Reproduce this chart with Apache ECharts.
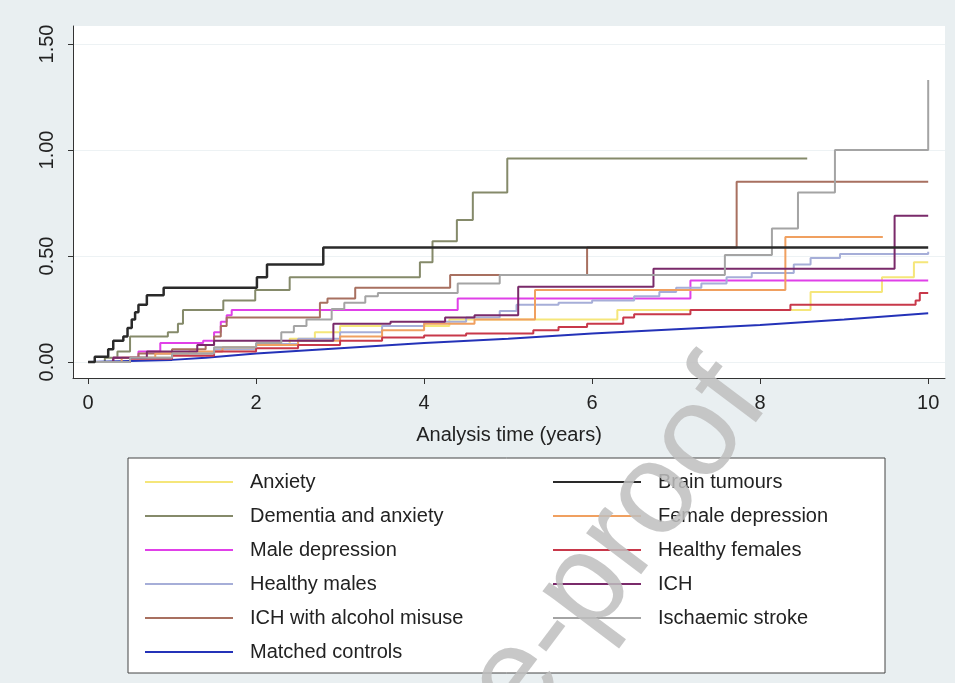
<!DOCTYPE html>
<html>
<head>
<meta charset="utf-8">
<script src="https://cdn.jsdelivr.net/npm/echarts@6/dist/echarts.min.js"></script>
<style>
  html, body { margin: 0; padding: 0; background: #e9eff1; }
  #chart { width: 955px; height: 683px; }
</style>
</head>
<body>
<div id="chart"></div>
<script>
// step data: [time (years), cumulative incidence]
const anxiety = [[0,0],[0.5,0.02],[1.0,0.04],[1.5,0.06],[2.0,0.08],[2.4,0.11],[2.7,0.14],[3.0,0.17],[4.3,0.20],[6.3,0.245],[8.6,0.33],[9.45,0.40],[9.83,0.47],[10,0.47]];
const dementiaAnxiety = [[0,0],[0.2,0.02],[0.35,0.05],[0.5,0.12],[0.95,0.14],[1.07,0.18],[1.13,0.245],[1.61,0.29],[1.99,0.34],[2.4,0.40],[3.95,0.47],[4.1,0.57],[4.39,0.67],[4.58,0.80],[4.99,0.96],[8.56,0.96]];
const maleDepression = [[0,0],[0.3,0.02],[0.6,0.05],[0.86,0.09],[1.37,0.10],[1.5,0.14],[1.58,0.19],[1.65,0.22],[1.71,0.245],[4.4,0.30],[7.17,0.385],[10,0.385]];
const healthyMales = [[0,0],[0.5,0.02],[1,0.04],[1.5,0.06],[2,0.085],[2.5,0.11],[3,0.14],[3.5,0.17],[4,0.19],[4.5,0.21],[4.9,0.24],[5.1,0.27],[5.6,0.28],[6.0,0.29],[6.5,0.31],[6.8,0.33],[7.0,0.35],[7.3,0.37],[7.6,0.40],[7.9,0.42],[8.4,0.46],[8.6,0.49],[8.95,0.51],[10,0.52]];
const ichAlcohol = [[0,0],[0.3,0.02],[0.6,0.04],[1.0,0.06],[1.4,0.08],[1.5,0.12],[1.58,0.17],[1.65,0.21],[2.76,0.28],[2.85,0.30],[3.18,0.35],[4.31,0.41],[5.94,0.54],[7.72,0.85],[10,0.85]];
const matchedControls = [[0,0],[0.5,0.005],[1,0.01],[1.4,0.02],[2,0.04],[3,0.065],[4,0.09],[5,0.11],[6,0.135],[7,0.155],[8,0.175],[9,0.20],[10,0.23]];
const brainTumours = [[0,0],[0.08,0.025],[0.24,0.06],[0.30,0.10],[0.42,0.12],[0.47,0.16],[0.52,0.20],[0.56,0.235],[0.60,0.27],[0.70,0.315],[0.90,0.35],[2.01,0.40],[2.13,0.46],[2.80,0.54],[10,0.54]];
const femaleDepression = [[0,0],[0.4,0.02],[0.8,0.04],[1.2,0.05],[1.6,0.07],[2.0,0.08],[2.5,0.10],[3.0,0.12],[3.5,0.15],[4.0,0.18],[4.6,0.20],[5.32,0.34],[8.3,0.59],[9.46,0.59]];
const healthyFemales = [[0,0],[0.5,0.015],[1,0.03],[1.5,0.05],[2,0.065],[2.5,0.08],[3,0.10],[3.5,0.115],[4,0.125],[4.5,0.135],[5.3,0.15],[5.6,0.165],[5.94,0.18],[6.37,0.21],[6.5,0.225],[7.17,0.245],[8.36,0.27],[9.85,0.29],[9.9,0.325],[10,0.325]];
const ich = [[0,0],[0.3,0.02],[0.7,0.05],[1.3,0.08],[1.5,0.10],[2.92,0.18],[3.6,0.19],[4.25,0.21],[4.6,0.22],[5.12,0.355],[6.73,0.44],[9.6,0.69],[10,0.69]];
const ischaemicStroke = [[0,0],[0.5,0.02],[1.0,0.04],[1.5,0.07],[2.0,0.09],[2.3,0.14],[2.45,0.17],[2.6,0.20],[2.9,0.25],[3.05,0.28],[3.3,0.31],[3.45,0.325],[4.4,0.37],[4.9,0.41],[7.58,0.505],[8.14,0.63],[8.45,0.80],[8.89,1.0],[10,1.33]];

const leftNames = ['Anxiety', 'Dementia and anxiety', 'Male depression', 'Healthy males', 'ICH with alcohol misuse', 'Matched controls'];
const rightNames = ['Brain tumours', 'Female depression', 'Healthy females', 'ICH', 'Ischaemic stroke'];
const xTicks = [0, 2, 4, 6, 8, 10];
const yTicks = [0, 0.5, 1, 1.5];

const groups = [
  { name: 'Anxiety', data: anxiety, color: '#f5e67a' },
  { name: 'Dementia and anxiety', data: dementiaAnxiety, color: '#858a6a' },
  { name: 'Male depression', data: maleDepression, color: '#e040e8' },
  { name: 'Healthy males', data: healthyMales, color: '#a6aed8' },
  { name: 'ICH with alcohol misuse', data: ichAlcohol, color: '#a87060' },
  { name: 'Matched controls', data: matchedControls, color: '#2432b8', smooth: true },
  { name: 'Brain tumours', data: brainTumours, color: '#2a2a2a', width: 2.5 },
  { name: 'Female depression', data: femaleDepression, color: '#f0a060' },
  { name: 'Healthy females', data: healthyFemales, color: '#c8384a' },
  { name: 'ICH', data: ich, color: '#7a2a6a' },
  { name: 'Ischaemic stroke', data: ischaemicStroke, color: '#a4a4a4' }
];

const chart = echarts.init(document.getElementById('chart'), null, { renderer: 'canvas' });

const fontFamily = '"Liberation Sans", Arial, sans-serif';

const legendBase = {
  orient: 'vertical',
  top: 472,
  padding: 0,
  icon: 'rect',
  itemWidth: 88,
  itemHeight: 2,
  itemGap: 14,
  selectedMode: false,
  textStyle: {
    fontSize: 20,
    lineHeight: 20,
    color: '#222',
    fontFamily: fontFamily,
    padding: [0, 0, 0, 12]
  }
};

const option = {
  backgroundColor: '#e9eff1',
  animation: false,
  grid: {
    left: 73,
    right: 10,
    top: 26,
    bottom: 305,
    show: true,
    backgroundColor: '#ffffff',
    borderWidth: 0
  },
  xAxis: {
    type: 'value',
    min: -0.179,
    max: 10.2,
    name: 'Analysis time (years)',
    nameLocation: 'middle',
    nameGap: 47,
    nameTextStyle: { fontSize: 20, color: '#222', fontFamily: fontFamily },
    axisLine: { show: true, onZero: false, lineStyle: { color: '#333', width: 1 } },
    axisTick: { show: true, length: 6, customValues: xTicks, lineStyle: { color: '#333' } },
    axisLabel: { customValues: xTicks, fontSize: 20, color: '#222', margin: 15, fontFamily: fontFamily },
    splitLine: { show: false }
  },
  yAxis: {
    type: 'value',
    min: -0.0755,
    max: 1.585,
    axisLine: { show: true, onZero: false, lineStyle: { color: '#333', width: 1 } },
    axisTick: { show: true, length: 5, customValues: yTicks, lineStyle: { color: '#333' } },
    axisLabel: {
      customValues: yTicks,
      rotate: 90,
      fontSize: 20,
      color: '#222',
      margin: 16,
      fontFamily: fontFamily,
      formatter: v => v.toFixed(2)
    },
    splitLine: { show: true, lineStyle: { color: '#edf2f4', width: 1 } }
  },
  legend: [
    Object.assign({}, legendBase, { left: 145, data: leftNames }),
    Object.assign({}, legendBase, { left: 553, data: rightNames })
  ],
  graphic: [
    {
      type: 'rect',
      z: 0,
      shape: { x: 128, y: 458, width: 757, height: 215 },
      style: { fill: '#ffffff', stroke: '#444', lineWidth: 1 }
    },
    {
      // journal watermark over the figure
      type: 'text',
      z: 100,
      x: 742,
      y: 381,
      rotation: 53 * Math.PI / 180,
      style: {
        text: 'Journal Pre-proof',
        fill: 'rgba(190,190,190,0.85)',
        font: '130px ' + fontFamily,
        align: 'right',
        verticalAlign: 'middle'
      }
    }
  ],
  series: groups.map(g => ({
    name: g.name,
    type: 'line',
    data: g.data,
    step: g.smooth ? false : 'end',
    symbol: 'none',
    color: g.color,
    lineStyle: { color: g.color, width: g.width || 2 },
    z: g.name === 'Brain tumours' ? 3 : 2
  }))
};

chart.setOption(option);
</script>
</body>
</html>
